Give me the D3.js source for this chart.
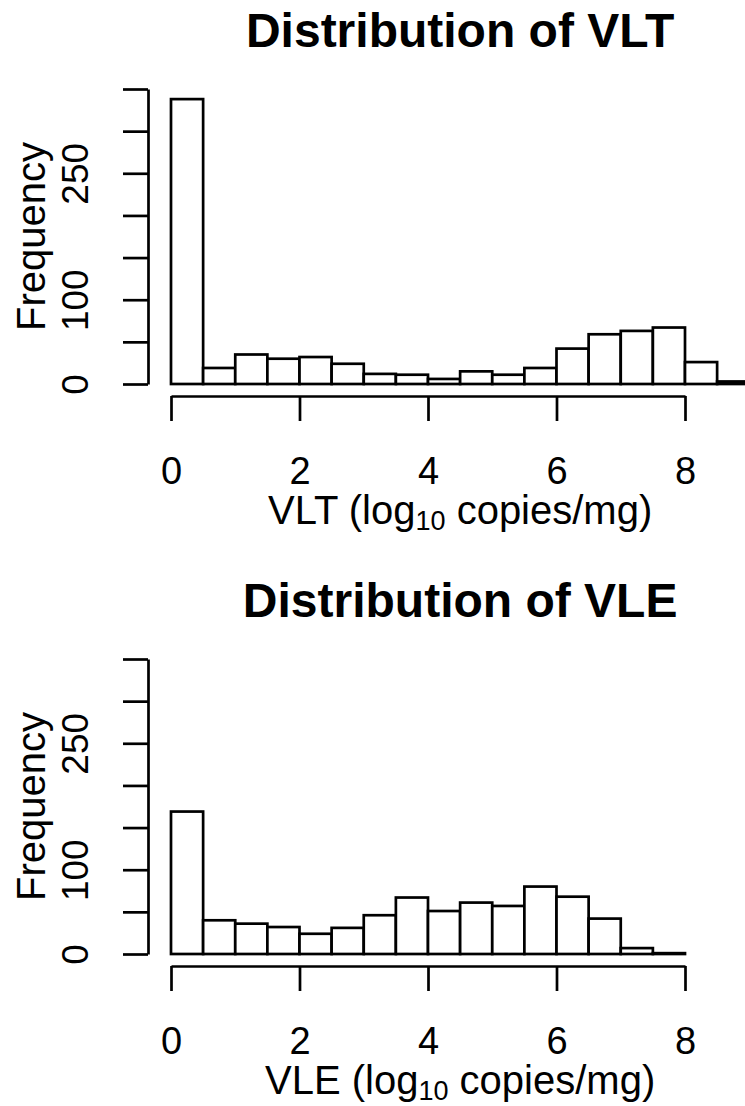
<!DOCTYPE html>
<html>
  <head>
    <title>Distribution of VLT and VLE</title>
    <script src="https://d3js.org/d3.v7.min.js"></script>
    <style>
      body { margin: 0; background: #fff; }
      svg { display: block; font-family: "Liberation Sans", Arial, sans-serif; }
      .bar { fill: #fff; stroke: #000; stroke-width: 2.7; }
      .axis path, .axis line { stroke: #000; stroke-width: 2.7; }
      .axis text { fill: #000; }
    </style>
  </head>
  <body>
    <div id="chart"></div>
    <script>
      // histogram bins: 0.5 log10 units wide, starting at 0
      var binWidth = 0.5;
      var vltCounts = [338, 19, 35, 30, 32, 24, 12, 11, 6, 15, 11, 19, 42, 59, 63, 67, 26, 3];
      var vleCounts = [169, 40, 36, 32, 24, 31, 46, 67, 51, 61, 57, 80, 68, 42, 7, 1];

      var xTicks = [0, 2, 4, 6, 8];
      var yTicks = [0, 50, 100, 150, 200, 250, 300, 350];
      var yLabels = [0, 100, 250];

      var panels = [
        { title: "Distribution of VLT", name: "VLT", counts: vltCounts, top: 0 },
        { title: "Distribution of VLE", name: "VLE", counts: vleCounts, top: 570 }
      ];

      var width = 745, height = 1106;

      var svg = d3.select("#chart").append("svg")
        .attr("width", width)
        .attr("height", height);

      svg.append("rect").attr("width", width).attr("height", height).attr("fill", "#fff");

      // same scales for both panels, each panel is shifted down
      var x = d3.scaleLinear().domain([0, 8]).range([171, 685]);
      var y = d3.scaleLinear().domain([0, 350]).range([384, 89]);

      panels.forEach(function (p) {
        var g = svg.append("g").attr("transform", "translate(0," + p.top + ")");

        var bins = p.counts.map(function (c, i) {
          return { x0: i * binWidth, x1: (i + 1) * binWidth, count: c };
        });

        g.selectAll(".bar")
          .data(bins)
          .enter()
          .append("rect")
          .attr("class", "bar")
          .attr("x", function (d) { return x(d.x0); })
          .attr("width", function (d) { return x(d.x1) - x(d.x0); })
          .attr("y", function (d) { return y(d.count); })
          .attr("height", function (d) { return y(0) - y(d.count); });

        // x axis sits just below the plot region, spans first to last tick
        var xa = g.append("g")
          .attr("class", "axis")
          .attr("transform", "translate(0,396)")
          .call(d3.axisBottom(x).tickValues(xTicks).tickSize(25).tickSizeOuter(0));
        xa.selectAll("text")
          .attr("y", 88)
          .attr("dy", null)
          .style("font-size", "38px");

        // y axis at the left edge of the plot region
        var ya = g.append("g")
          .attr("class", "axis")
          .attr("transform", "translate(148,0)")
          .call(d3.axisLeft(y).tickValues(yTicks).tickSize(25).tickSizeOuter(0)
            .tickFormat(function (d) { return yLabels.indexOf(d) >= 0 ? d : ""; }));
        ya.selectAll("text")
          .attr("x", null)
          .attr("dy", null)
          .attr("text-anchor", "middle")
          .attr("transform", "translate(-60,0) rotate(-90)")
          .style("font-size", "37px");

        // axis labels and title
        var cx = x(4.5);
        var xl = g.append("text")
          .attr("x", cx)
          .attr("y", 524)
          .attr("text-anchor", "middle")
          .style("font-size", "40px");
        xl.append("tspan").text(p.name + " (log");
        xl.append("tspan").attr("dy", 5.5).style("font-size", "27px").text("10");
        xl.append("tspan").attr("dy", -5.5).text(" copies/mg)");

        g.append("text")
          .attr("transform", "translate(45," + y(175) + ") rotate(-90)")
          .attr("text-anchor", "middle")
          .style("font-size", "40px")
          .text("Frequency");

        g.append("text")
          .attr("x", cx)
          .attr("y", 47)
          .attr("text-anchor", "middle")
          .style("font-size", "48px")
          .style("font-weight", "bold")
          .text(p.title);
      });
    </script>
  </body>
</html>
